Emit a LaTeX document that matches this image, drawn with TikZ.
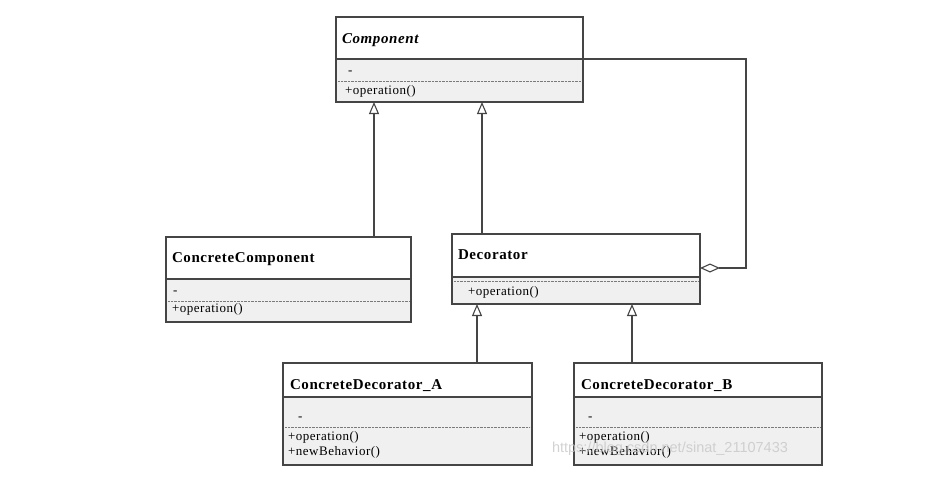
\documentclass[tikz,border=0pt]{standalone}
\usepackage{fontspec}
\setmainfont{Liberation Serif}
\newfontfamily\titlefont[LetterSpace=4]{Liberation Serif}
\newfontfamily\membfont[LetterSpace=4]{Liberation Serif}
\newfontfamily\wmfont{Liberation Sans}
\usetikzlibrary{arrows.meta}

\definecolor{linec}{HTML}{454545}
\definecolor{boxfill}{HTML}{F0F0F0}
\definecolor{dotc}{HTML}{7A7A7A}

\begin{document}
\begin{tikzpicture}[x=1pt,y=-1pt,
  every node/.style={inner sep=0pt,outer sep=0pt},
  hdr/.style={rectangle,draw=linec,fill=white,line width=1.1pt,anchor=north west},
  cmp/.style={rectangle,draw=linec,fill=boxfill,line width=1.1pt,anchor=north west},
  title/.style={anchor=base west,font=\titlefont\fontsize{15}{17}\selectfont\bfseries},
  memb/.style={anchor=mid west,font=\membfont\fontsize{13}{15}\selectfont},
  sepline/.style={draw=dotc,line width=0.8pt,dash pattern=on 0.7pt off 0.7pt},
  gen/.style={draw=linec,line width=1.1pt,-{Triangle[length=12pt,width=10pt,fill=white]}},
  aggr/.style={draw=linec,line width=1.1pt,-{Diamond[length=20pt,width=9pt,fill=white]}}
]
\useasboundingbox (0,0) rectangle (940,477);

% Component (abstract)
\node[hdr,minimum width=247pt,minimum height=42pt] (compH) at (336,17) {};
\node[cmp,minimum width=247pt,minimum height=43pt] (compB) at (336,59) {};
\node[title,font=\titlefont\fontsize{15}{17}\selectfont\bfseries\itshape] (compT) at (342,43) {Component};
\node[memb] (compM1) at (348,72) {-};
\draw[sepline] ([xshift=2pt,yshift=-22pt]compB.north west) -- ([xshift=-2pt,yshift=-22pt]compB.north east);
\node[memb] (compM2) at (345,92) {+operation()};

% ConcreteComponent
\node[hdr,minimum width=245pt,minimum height=42pt] (ccH) at (166,237) {};
\node[cmp,minimum width=245pt,minimum height=43pt] (ccB) at (166,279) {};
\node[title] (ccT) at (172,262) {ConcreteComponent};
\node[memb] (ccM1) at (173,292) {-};
\draw[sepline] ([xshift=2pt,yshift=-22pt]ccB.north west) -- ([xshift=-2pt,yshift=-22pt]ccB.north east);
\node[memb] (ccM2) at (172,310) {+operation()};

% Decorator
\node[hdr,minimum width=248pt,minimum height=43pt] (decH) at (452,234) {};
\node[cmp,minimum width=248pt,minimum height=27pt] (decB) at (452,277) {};
\node[title] (decT) at (458,259) {Decorator};
\draw[sepline] ([xshift=2pt,yshift=-4.5pt]decB.north west) -- ([xshift=-2pt,yshift=-4.5pt]decB.north east);
\node[memb] (decM1) at (468,293) {+operation()};

% ConcreteDecorator_A
\node[hdr,minimum width=249pt,minimum height=34pt] (cdaH) at (283,363) {};
\node[cmp,minimum width=249pt,minimum height=68pt] (cdaB) at (283,397) {};
\node[title] (cdaT) at (290,389) {ConcreteDecorator\_A};
\node[memb] (cdaM1) at (298,418) {-};
\draw[sepline] ([xshift=2pt,yshift=-30pt]cdaB.north west) -- ([xshift=-2pt,yshift=-30pt]cdaB.north east);
\node[memb] (cdaM2) at (288,438) {+operation()};
\node[memb] (cdaM3) at (288,453.5) {+newBehavior()};

% ConcreteDecorator_B
\node[hdr,minimum width=248pt,minimum height=34pt] (cdbH) at (574,363) {};
\node[cmp,minimum width=248pt,minimum height=68pt] (cdbB) at (574,397) {};
\node[title] (cdbT) at (581,389) {ConcreteDecorator\_B};
\node[memb] (cdbM1) at (588,418) {-};
\draw[sepline] ([xshift=2pt,yshift=-30pt]cdbB.north west) -- ([xshift=-2pt,yshift=-30pt]cdbB.north east);
\node[memb] (cdbM2) at (579,438) {+operation()};
\node[memb] (cdbM3) at (579,453.5) {+newBehavior()};

% connector x positions
\coordinate (gx1) at (374,0);
\coordinate (gx2) at (482,0);
\coordinate (gx3) at (477,0);
\coordinate (gx4) at (632,0);
\coordinate (aggcorner) at (746,268);

% inheritance
\draw[gen] (ccH.north -| gx1) -- (compB.south -| gx1);
\draw[gen] (decH.north -| gx2) -- (compB.south -| gx2);
\draw[gen] (cdaH.north -| gx3) -- (decB.south -| gx3);
\draw[gen] (cdbH.north -| gx4) -- (decB.south -| gx4);

% aggregation: Decorator holds a Component
\draw[aggr] (compH.south east) -| (aggcorner) -- (decH.east |- aggcorner);

% blog watermark
\node[anchor=mid west,font=\wmfont\fontsize{14.5}{16}\selectfont,text=black!22,text opacity=0.8] (wm) at (552,450) {https://blog.csdn.net/sinat\_21107433};
\end{tikzpicture}
\end{document}
